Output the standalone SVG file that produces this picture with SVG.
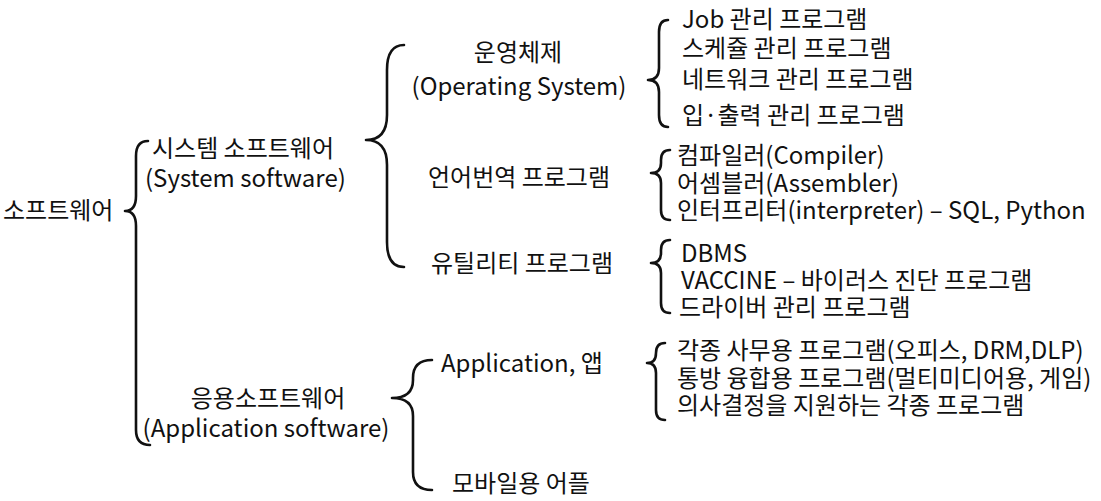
<svg xmlns="http://www.w3.org/2000/svg" width="1101" height="501" viewBox="0 0 1101 501">
<style>
text{font-family:"Noto Sans CJK KR","Noto Sans",sans-serif;font-size:24px;fill:#111}
.m{text-anchor:middle}
.b{fill:none;stroke:#111;stroke-width:2.6;stroke-linecap:round;stroke-linejoin:round}
</style>
<rect width="1101" height="501" fill="#fff"/>
<g id="connectors">
<path class="b" d="M148 141 Q136 141 136 156 L136 196 Q136 211 125 211 Q136 211 136 226 L136 430 Q136 445 150 445"/>
<path class="b" d="M404 45 Q387 45 387 70 L387 115 Q387 140 366 140 Q387 140 387 165 L387 242 Q387 267 404 267"/>
<path class="b" d="M668 20 Q659 20 659 32 L659 68 Q659 80 648 80 Q659 80 659 92 L659 115 Q659 127 668 127"/>
<path class="b" d="M670 150 Q661 150 661 160 L661 163 Q661 173 651 173 Q661 173 661 183 L661 210 Q661 220 670 220"/>
<path class="b" d="M670 240 Q661 240 661 250 L661 253 Q661 263 651 263 Q661 263 661 273 L661 303 Q661 313 670 313"/>
<path class="b" d="M432 360 Q413 360 413 378 L413 380 Q413 398 392 398 Q413 398 413 416 L413 472 Q413 490 432 490"/>
<path class="b" d="M665 343 Q656 343 656 353 L656 353 Q656 363 647 363 Q656 363 656 373 L656 410 Q656 420 665 420"/>
</g>
<g id="root"><text x="3" y="219">소프트웨어</text></g>
<g id="system"><text x="152" y="157">시스템 소프트웨어</text><text x="145" y="187">(System software)</text></g>
<g id="os"><text class="m" x="518" y="61">운영체제</text><text class="m" x="519" y="95">(Operating System)</text></g>
<g id="lang"><text class="m" x="519" y="186">언어번역 프로그램</text></g>
<g id="util"><text class="m" x="522" y="272">유틸리티 프로그램</text></g>
<g id="os-items">
<text x="682" y="28">Job 관리 프로그램</text>
<text x="682" y="57">스케쥴 관리 프로그램</text>
<text x="682" y="88">네트워크 관리 프로그램</text>
<text x="682" y="124">입·출력 관리 프로그램</text>
</g>
<g id="lang-items">
<text x="677" y="164">컴파일러(Compiler)</text>
<text x="677" y="192">어셈블러(Assembler)</text>
<text x="677" y="219">인터프리터(interpreter) – SQL, Python</text>
</g>
<g id="util-items">
<text x="681" y="262">DBMS</text>
<text x="681" y="289">VACCINE – 바이러스 진단 프로그램</text>
<text x="679" y="316">드라이버 관리 프로그램</text>
</g>
<g id="application"><text class="m" x="268" y="407">응용소프트웨어</text><text class="m" x="266" y="437">(Application software)</text></g>
<g id="app"><text x="441" y="372">Application, 앱</text></g>
<g id="mobile"><text x="452" y="492">모바일용 어플</text></g>
<g id="app-items">
<text x="677" y="359">각종 사무용 프로그램(오피스, DRM,DLP)</text>
<text x="677" y="387">통방 융합용 프로그램(멀티미디어용, 게임)</text>
<text x="677" y="414">의사결정을 지원하는 각종 프로그램</text>
</g>
</svg>
